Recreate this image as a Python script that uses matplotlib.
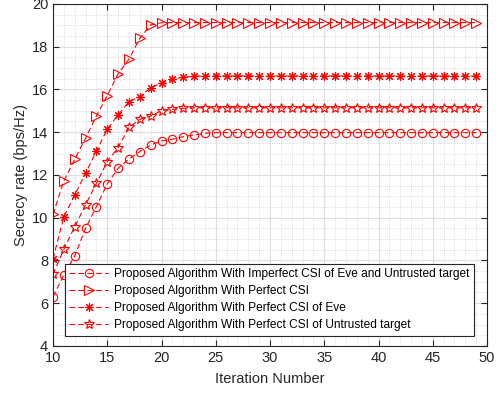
import numpy as np
import matplotlib.pyplot as plt
from matplotlib.ticker import MultipleLocator

plt.rcParams['font.family'] = ['Liberation Sans', 'DejaVu Sans']

# Iteration numbers
iterations = np.arange(10, 50)

# Secrecy rate (bps/Hz) per scheme
imperfect_both = [6.31, 7.32, 8.21, 9.50, 10.52, 11.58, 12.31, 12.75, 13.09, 13.40,
                  13.59, 13.67, 13.79, 13.87, 13.95] + [13.98] * 25
perfect_csi = [10.15, 11.72, 12.73, 13.72, 14.76, 15.71, 16.73, 17.41, 18.39, 19.02,
               19.12] + [19.13] * 29
perfect_eve = [8.07, 10.05, 11.06, 12.08, 13.12, 14.14, 14.81, 15.43, 15.66, 16.08,
               16.29, 16.48, 16.57, 16.62] + [16.63] * 26
perfect_target = [7.35, 8.52, 9.58, 10.60, 11.61, 12.62, 13.28, 14.23, 14.60, 14.76,
                  15.01, 15.07, 15.12] + [15.14] * 27

labels = [
    'Proposed Algorithm With Imperfect CSI of Eve and Untrusted target',
    'Proposed Algorithm With Perfect CSI',
    'Proposed Algorithm With Perfect CSI of Eve',
    'Proposed Algorithm With Perfect CSI of Untrusted target',
]

fig = plt.figure(figsize=(5.0, 3.94), dpi=100)
ax = fig.add_axes([0.106, 0.122, 0.868, 0.868])

red = '#ff0000'
common = dict(color=red, linestyle='--', linewidth=0.8, markerfacecolor='none',
              markeredgecolor=red, markeredgewidth=0.8, dashes=(5, 3))
ax.plot(iterations, imperfect_both, marker='o', markersize=6, label=labels[0], **common)
ax.plot(iterations, perfect_csi, marker='>', markersize=6.5, label=labels[1], **common)
ax.plot(iterations, perfect_eve, marker=(8, 2, 0), markersize=6.5, label=labels[2], **common)
ax.plot(iterations, perfect_target, marker='*', markersize=7.5, label=labels[3], **common)

ax.set_xlim(10, 50)
ax.set_ylim(4, 20)
ax.xaxis.set_major_locator(MultipleLocator(5))
ax.xaxis.set_minor_locator(MultipleLocator(1))
ax.yaxis.set_major_locator(MultipleLocator(2))
ax.yaxis.set_minor_locator(MultipleLocator(0.5))

ax.grid(which='major', color='#dfdfdf', linestyle='-', linewidth=0.8)
ax.grid(which='minor', color='#d0d0d0', linestyle=':', linewidth=0.6)
ax.set_axisbelow(True)

axis_color = '#262626'
for sp in ax.spines.values():
    sp.set_color(axis_color)
    sp.set_linewidth(0.8)
ax.tick_params(which='both', direction='in', top=True, right=True, colors=axis_color,
               labelsize=10.5, labelcolor=axis_color)
ax.tick_params(which='major', length=4)
ax.tick_params(which='minor', length=0)

ax.set_xlabel('Iteration Number', fontsize=10.5, color=axis_color, labelpad=5)
ax.set_ylabel('Secrecy rate (bps/Hz)', fontsize=10.5, color=axis_color, labelpad=3)

leg = ax.legend(loc='lower left', bbox_to_anchor=(0.027, 0.03), fontsize=8.6,
                frameon=True, fancybox=False, edgecolor=axis_color, framealpha=1,
                handlelength=3.3, borderpad=0.35, labelspacing=0.42, handletextpad=0.5,
                borderaxespad=0)
leg.get_frame().set_linewidth(0.8)

fig.savefig('out.png', dpi=100)
